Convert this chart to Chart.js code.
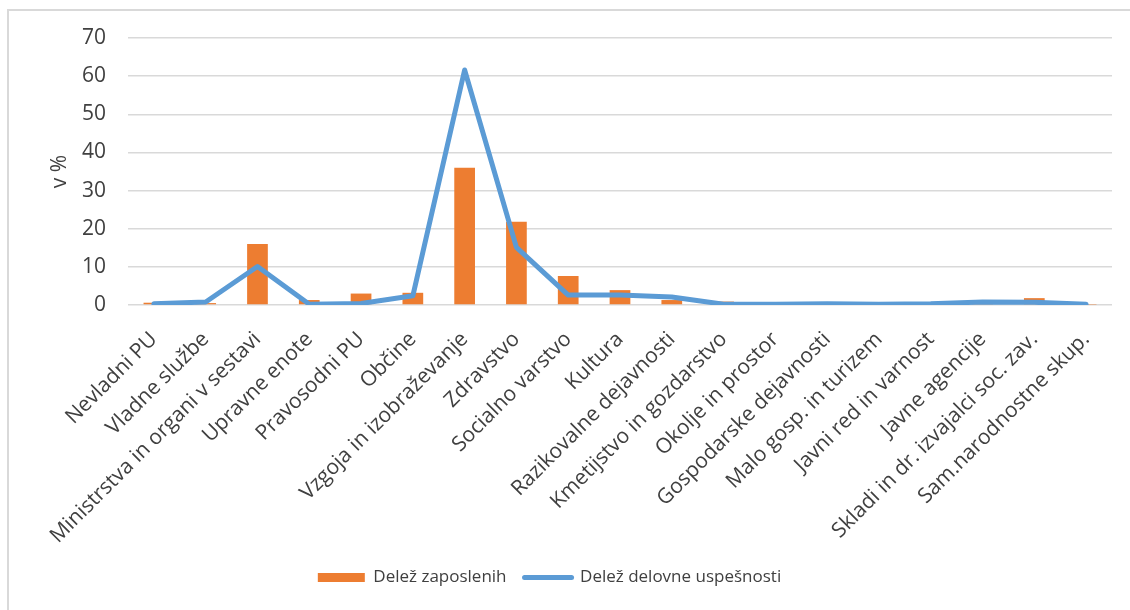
<!DOCTYPE html>
<html>
<head>
<meta charset="utf-8">
<script src="https://cdn.jsdelivr.net/npm/chart.js@4/dist/chart.umd.min.js"></script>
<style>
  html, body { margin: 0; padding: 0; background: #fff; overflow: hidden; }
  #wrap { position: absolute; left: 0; top: 0; width: 1130px; height: 610px; }
  #frame { position: absolute; left: 7px; top: 9px; width: 1140px; height: 620px;
           border: 2px solid #d9d9d9; pointer-events: none; }
</style>
</head>
<body>
<div id="wrap"><canvas id="chart" width="1130" height="610"></canvas></div>
<div id="frame"></div>
<script>
"use strict";
// podatki odčitani s slike
const categories = ['Nevladni PU', 'Vladne službe', 'Ministrstva in organi v sestavi', 'Upravne enote',
    'Pravosodni PU', 'Občine', 'Vzgoja in izobraževanje', 'Zdravstvo', 'Socialno varstvo', 'Kultura',
    'Razikovalne dejavnosti', 'Kmetijstvo in gozdarstvo', 'Okolje in prostor', 'Gospodarske dejavnosti',
    'Malo gosp. in turizem', 'Javni red in varnost', 'Javne agencije', 'Skladi in dr. izvajalci soc. zav.',
    'Sam.narodnostne skup.'];
const delezZaposlenih = [0.6, 0.5, 16.0, 1.3, 3.0, 3.2, 36.0, 21.8, 7.6, 3.9, 1.3, 0.9, 0.1, 0.1, 0.1, 0.1, 0.3, 1.8, 0.1];
const delezUspesnosti = [0.3, 0.8, 10.1, 0.2, 0.4, 2.4, 61.6, 15.1, 2.6, 2.6, 2.1, 0.2, 0.2, 0.3, 0.2, 0.3, 0.8, 0.7, 0.2];
const yTicks = [0, 10, 20, 30, 40, 50, 60, 70];

const orange = '#ED7D31';
const blue = '#5B9BD5';
const textColor = '#404040';
const gridColor = '#d9d9d9';
const fontFamily = '"Open Sans", "Noto Sans", sans-serif';

const chartData = {
    labels: categories,
    datasets: [{
            type: 'bar',
            label: 'Delež zaposlenih',
            backgroundColor: orange,
            borderWidth: 0,
            data: delezZaposlenih,
            barPercentage: 0.4,
            categoryPercentage: 1.0,
            order: 1
        }, {
            type: 'line',
            label: 'Delež delovne uspešnosti',
            borderColor: blue,
            backgroundColor: blue,
            borderWidth: 5,
            borderCapStyle: 'round',
            borderJoinStyle: 'round',
            pointRadius: 0,
            tension: 0,
            data: delezUspesnosti,
            order: 0
        }]
};

const config = {
    data: chartData,
    options: {
        responsive: false,
        animation: false,
        // negativen levi odmik, da je legenda centrirana kot v izvirniku
        layout: { padding: { left: -13, right: 18, top: 38, bottom: 14 } },
        scales: {
            x: {
                grid: { display: false, drawTicks: false },
                border: { display: false },
                ticks: {
                    autoSkip: false,
                    maxRotation: 45,
                    minRotation: 45,
                    padding: 22,
                    color: textColor,
                    font: { family: fontFamily, size: 21 }
                },
                afterFit(scale) { scale.height = 246; }
            },
            y: {
                min: 0,
                max: 70,
                afterBuildTicks(scale) { scale.ticks = yTicks.map(v => ({ value: v })); },
                grid: { color: gridColor, lineWidth: 1.5, drawTicks: false },
                border: { display: false },
                ticks: {
                    padding: 22,
                    color: textColor,
                    font: { family: fontFamily, size: 21 }
                },
                title: {
                    display: true,
                    text: 'v %',
                    color: textColor,
                    padding: 60,
                    font: { family: fontFamily, size: 21 }
                },
                afterFit(scale) { scale.width = 141; }
            }
        },
        plugins: {
            tooltip: { enabled: false },
            legend: {
                position: 'bottom',
                maxHeight: 60,
                labels: {
                    usePointStyle: true,
                    pointStyleWidth: 47,
                    boxHeight: 9,
                    padding: 18,
                    color: textColor,
                    font: { family: fontFamily, size: 17 },
                    generateLabels(chart) {
                        return chart.data.datasets.map((ds, i) => ({
                            text: ds.label,
                            datasetIndex: i,
                            fillStyle: ds.type === 'bar' ? orange : blue,
                            strokeStyle: ds.type === 'bar' ? orange : blue,
                            lineWidth: ds.type === 'bar' ? 0 : 5,
                            lineCap: 'round',
                            pointStyle: ds.type === 'bar' ? 'rect' : 'line',
                            fontColor: textColor,
                            hidden: false
                        }));
                    }
                }
            }
        }
    }
};

const chart = new Chart(document.getElementById('chart'), config);
</script>
</body>
</html>
